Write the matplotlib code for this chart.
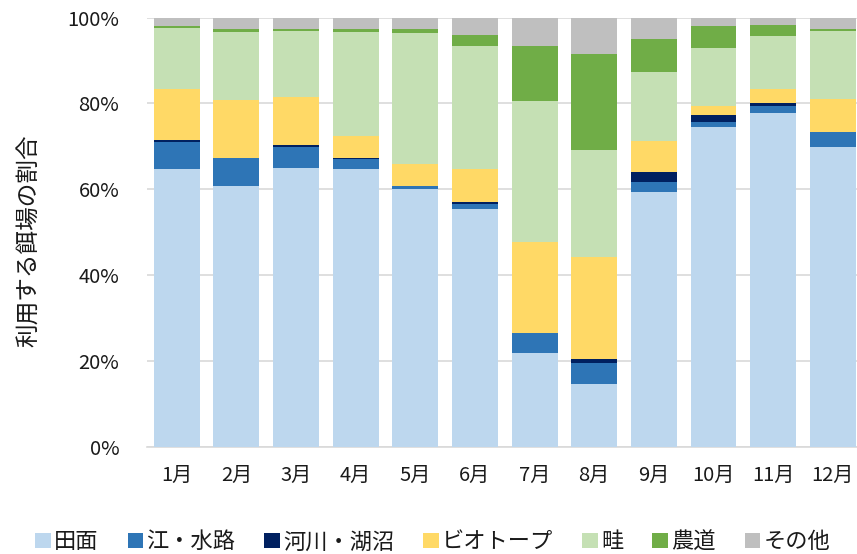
import matplotlib
import numpy as np

matplotlib.use("Agg")
import matplotlib.pyplot as plt

plt.rcParams["font.family"] = ["Noto Sans CJK JP", "DejaVu Sans"]

months = ["1月", "2月", "3月", "4月", "5月", "6月", "7月", "8月", "9月", "10月", "11月", "12月"]
categories = ["田面", "江・水路", "河川・湖沼", "ビオトープ", "畦", "農道", "その他"]
colors = ["#BDD7EE", "#2E75B6", "#002060", "#FFD966", "#C5E0B4", "#70AD47", "#BFBFBF"]

# 各カテゴリの割合 (%)、図から読み取り
tamen = [64.7, 60.8, 64.9, 64.8, 60.1, 55.4, 22.0, 14.8, 59.4, 74.6, 77.8, 69.8]
e_suiro = [6.4, 6.6, 5.0, 2.3, 0.6, 1.3, 4.5, 4.8, 2.4, 1.1, 1.7, 3.5]
kasen = [0.5, 0.0, 0.5, 0.3, 0.1, 0.3, 0.0, 1.0, 2.2, 1.5, 0.6, 0.0]
biotope = [11.8, 13.3, 11.0, 4.9, 5.0, 7.7, 21.2, 23.6, 7.2, 2.1, 3.3, 7.7]
aze = [14.1, 16.0, 15.5, 24.3, 30.6, 28.7, 32.9, 24.9, 16.1, 13.7, 12.4, 15.9]
noudou = [0.6, 0.6, 0.5, 0.7, 1.0, 2.6, 12.8, 22.5, 7.7, 5.1, 2.5, 0.4]
sonota = [1.9, 2.7, 2.6, 2.7, 2.6, 4.0, 6.6, 8.4, 5.0, 1.9, 1.7, 2.7]

series = [tamen, e_suiro, kasen, biotope, aze, noudou, sonota]

fig = plt.figure(figsize=(8.57, 5.54), dpi=100)
ax = fig.add_axes([0.1715, 0.193, 0.835, 0.7754])

x = np.arange(len(months))
bottom = np.zeros(len(months))
handles = []
for name, vals, color in zip(categories, series, colors):
    v = np.array(vals, dtype=float)
    h = ax.bar(x, v, 0.77, bottom=bottom, color=color, label=name, zorder=3, linewidth=0)
    handles.append(h)
    bottom += v

ax.set_xlim(-0.5, 11.5)
ax.set_ylim(0, 100)
ax.set_yticks(np.arange(0, 101, 20))
ax.set_yticklabels([f"{t}%" for t in range(0, 101, 20)])
ax.set_xticks(x)
ax.set_xticklabels(months)
ax.grid(axis="y", color="#D9D9D9", lw=1.2, zorder=0)
ax.set_axisbelow(True)
for s in ["top", "right", "left"]:
    ax.spines[s].set_visible(False)
ax.spines["bottom"].set_color("#D9D9D9")
ax.spines["bottom"].set_linewidth(1.2)
ax.tick_params(axis="both", length=0, labelsize=14.5, colors="#1a1a1a")
ax.tick_params(axis="y", pad=20)
ax.tick_params(axis="x", pad=13)
ax.set_ylabel("利用する餌場の割合", fontsize=17, color="#1a1a1a")
ax.yaxis.set_label_coords(-0.148, 0.48)

fig.legend(handles=handles, labels=categories, loc="center", bbox_to_anchor=(0.505, 0.022),
           ncol=7, frameon=False, fontsize=16, handlelength=0.7, handleheight=0.7,
           handletextpad=0.15, columnspacing=1.3, labelcolor="#1a1a1a")

fig.savefig("out.png", dpi=100)
